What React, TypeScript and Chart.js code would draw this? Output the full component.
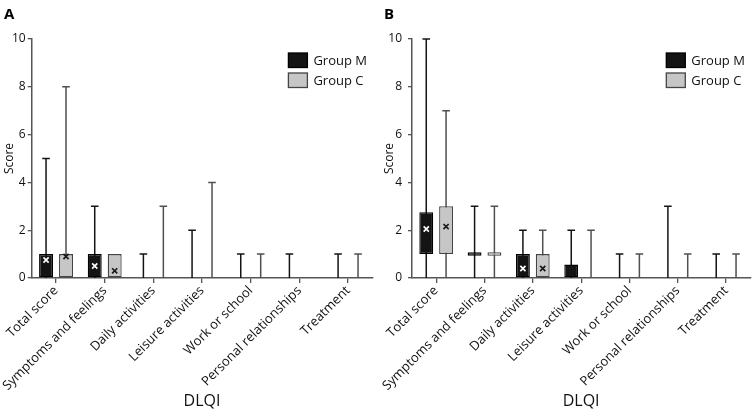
import React, { useEffect, useRef } from 'react';
import { Chart, registerables } from 'chart.js';

Chart.register(...registerables);

const categories = [
  'Total score',
  'Symptoms and feelings',
  'Daily activities',
  'Leisure activities',
  'Work or school',
  'Personal relationships',
  'Treatment',
];
const seriesNames = ['Group M', 'Group C'];
const yTickStep = 2;
const yMax = 10;
const xTitle = 'DLQI';
const yTitle = 'Score';

// Panel A — Group M
const aM_q1 = [0, 0, null, null, null, null, null];
const aM_q3 = [1, 1, null, null, null, null, null];
const aM_min = [0, 0, 0, 0, 0, 0, 0];
const aM_max = [5, 3, 1, 2, 1, 1, 1];
const aM_mean = [0.75, 0.5, null, null, null, null, null];
// Panel A — Group C
const aC_q1 = [0, 0, null, null, null, null, null];
const aC_q3 = [1, 1, null, null, null, null, null];
const aC_min = [0, 0, 0, 0, 0, 0, 0];
const aC_max = [8, 1, 3, 4, 1, 0, 1];
const aC_mean = [0.9, 0.3, null, null, null, null, null];

// Panel B — Group M
const bM_q1 = [1, 0.93, 0, 0, null, null, null];
const bM_q3 = [2.75, 1.08, 1, 0.56, null, null, null];
const bM_min = [0, 0, 0, 0, 0, 0, 0];
const bM_max = [10, 3, 2, 2, 1, 3, 1];
const bM_mean = [2.05, null, 0.4, null, null, null, null];
// Panel B — Group C
const bC_q1 = [1, 0.93, 0, null, null, null, null];
const bC_q3 = [3, 1.08, 1, null, null, null, null];
const bC_min = [0, 0, 0, 0, 0, 0, 0];
const bC_max = [7, 3, 2, 2, 1, 1, 1];
const bC_mean = [2.15, null, 0.4, null, null, null, null];

const FONT = "'Open Sans', 'Noto Sans', sans-serif";
const TEXT = '#111111';
const AXIS = '#555555';

type Series = {
  q1: (number | null)[];
  q3: (number | null)[];
  min: number[];
  max: number[];
  mean: (number | null)[];
  fill: string;
  border: string;
  whisker: string;
  meanColor: string;
};

const seriesStyle = [
  { fill: '#141414', border: '#000000', whisker: '#141414', meanColor: '#ffffff' },
  { fill: '#c6c6c6', border: '#444444', whisker: '#505050', meanColor: '#1a1a1a' },
];

function Panel(props: { letter: string; series: Series[]; left: number; width: number; yWidth: number; tickPad: number; padRight: number }) {
  const ref = useRef<HTMLCanvasElement>(null);
  useEffect(() => {
    const { series, letter, yWidth, tickPad, padRight } = props;
    const extras = {
      id: 'boxExtras',
      beforeDatasetsDraw(chart: any) {
        const { ctx } = chart;
        const y = chart.scales.y;
        series.forEach((s, di) => {
          const meta = chart.getDatasetMeta(di);
          ctx.save();
          ctx.strokeStyle = s.whisker;
          ctx.lineWidth = 1.5;
          s.max.forEach((mx, i) => {
            const top = s.q3[i] ?? s.min[i];
            if (mx <= top) return;
            const x = meta.data[i].x;
            const y0 = y.getPixelForValue(s.min[i]);
            const y1 = y.getPixelForValue(mx);
            ctx.beginPath();
            ctx.moveTo(x, y0);
            ctx.lineTo(x, y1);
            ctx.moveTo(x - 3.8, y1);
            ctx.lineTo(x + 3.8, y1);
            ctx.stroke();
          });
          ctx.restore();
        });
      },
      afterDatasetsDraw(chart: any) {
        const { ctx } = chart;
        const y = chart.scales.y;
        series.forEach((s, di) => {
          const meta = chart.getDatasetMeta(di);
          ctx.save();
          ctx.strokeStyle = s.meanColor;
          ctx.lineWidth = 1.7;
          s.mean.forEach((m, i) => {
            if (m == null) return;
            const x = meta.data[i].x;
            const py = y.getPixelForValue(m);
            const r = 2.6;
            ctx.beginPath();
            ctx.moveTo(x - r, py - r);
            ctx.lineTo(x + r, py + r);
            ctx.moveTo(x + r, py - r);
            ctx.lineTo(x - r, py + r);
            ctx.stroke();
          });
          ctx.restore();
        });
      },
      afterDraw(chart: any) {
        const { ctx, chartArea } = chart;
        ctx.save();
        const lx = chartArea.right - 84;
        let ly = chartArea.top + 14;
        chart.data.datasets.forEach((ds: any) => {
          ctx.fillStyle = ds.backgroundColor;
          ctx.strokeStyle = ds.borderColor;
          ctx.lineWidth = 1.3;
          ctx.fillRect(lx, ly, 19, 14.5);
          ctx.strokeRect(lx, ly, 19, 14.5);
          ctx.fillStyle = TEXT;
          ctx.font = `13px ${FONT}`;
          ctx.textBaseline = 'middle';
          ctx.textAlign = 'left';
          ctx.fillText(ds.label, lx + 25, ly + 7.8);
          ly += 20;
        });
        ctx.font = `bold 15px ${FONT}`;
        ctx.fillStyle = '#000';
        ctx.textBaseline = 'alphabetic';
        ctx.fillText(letter, 4, 18.5);
        ctx.restore();
      },
    };

    const chart = new Chart(ref.current!, {
      type: 'bar',
      data: {
        labels: categories,
        datasets: series.map((s, i) => ({
          label: seriesNames[i],
          data: s.q1.map((v, k) => (v == null || s.q3[k] == null ? null : [v, s.q3[k]])) as any,
          backgroundColor: s.fill,
          borderColor: s.border,
          borderWidth: 1.3,
          borderSkipped: false,
          categoryPercentage: 0.82,
          barPercentage: 0.7,
        })),
      },
      options: {
        responsive: false,
        animation: false,
        devicePixelRatio: 1,
        layout: { padding: { top: 39, left: 0, right: padRight, bottom: 0 } },
        plugins: { legend: { display: false }, tooltip: { enabled: false } },
        scales: {
          x: {
            grid: { display: true, drawOnChartArea: false, offset: false, tickLength: 5, color: AXIS, lineWidth: 1.3 },
            border: { display: true, color: AXIS, width: 1.5 },
            ticks: { maxRotation: 45, minRotation: 45, autoSkip: false, padding: 0, color: TEXT, font: { family: FONT, size: 13 } },
            title: { display: true, text: xTitle, color: TEXT, font: { family: FONT, size: 16 }, padding: { top: 4, bottom: 1 } },
            afterFit: (s: any) => { s.height = 134; },
          },
          y: {
            min: 0,
            max: yMax,
            grid: { display: true, drawOnChartArea: false, tickLength: 4, color: AXIS, lineWidth: 1.3 },
            border: { display: true, color: AXIS, width: 1.5 },
            ticks: { stepSize: yTickStep, padding: tickPad, color: TEXT, font: { family: FONT, size: 12 } },
            title: { display: true, text: yTitle, color: TEXT, font: { family: FONT, size: 12 }, padding: { top: 2, bottom: 0 } },
            afterFit: (s: any) => { s.width = yWidth; },
          },
        },
      },
      plugins: [extras],
    });
    return () => chart.destroy();
  }, []);
  return (
    <div style={{ position: 'absolute', left: props.left, top: 0, width: props.width, height: 412 }}>
      <canvas ref={ref} width={props.width} height={412} style={{ width: props.width, height: 412, display: 'block' }} />
    </div>
  );
}

const mk = (q1: any, q3: any, min: number[], max: number[], mean: any, i: number): Series => ({ q1, q3, min, max, mean, ...seriesStyle[i] });

export default function App() {
  const seriesA = [mk(aM_q1, aM_q3, aM_min, aM_max, aM_mean, 0), mk(aC_q1, aC_q3, aC_min, aC_max, aC_mean, 1)];
  const seriesB = [mk(bM_q1, bM_q3, bM_min, bM_max, bM_mean, 0), mk(bC_q1, bC_q3, bC_min, bC_max, bC_mean, 1)];
  return (
    <div style={{ position: 'fixed', left: 0, top: 0, width: 753, height: 412, background: '#fff', overflow: 'hidden' }}>
      <Panel letter="A" series={seriesA} left={0} width={376} yWidth={31.7} tickPad={2} padRight={3.6} />
      <Panel letter="B" series={seriesB} left={380} width={373} yWidth={32} tickPad={6} padRight={2.7} />
    </div>
  );
}
